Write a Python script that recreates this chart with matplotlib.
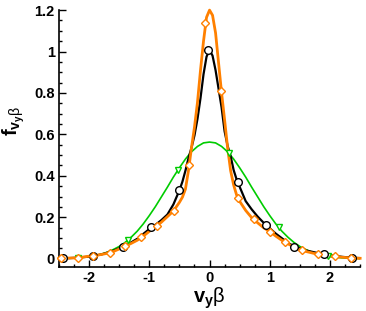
import matplotlib
matplotlib.use("Agg")
import matplotlib.pyplot as plt
from matplotlib.ticker import MultipleLocator

plt.rcParams['font.family'] = ['Liberation Sans', 'DejaVu Sans']
plt.rcParams['font.weight'] = 'bold'
plt.rcParams['mathtext.fontset'] = 'custom'
plt.rcParams['mathtext.rm'] = 'Liberation Sans:normal'
plt.rcParams['mathtext.bf'] = 'Liberation Sans:bold'
plt.rcParams['mathtext.it'] = 'Liberation Sans:italic'

# ---- data ----
black_x = [-2.5, -2.2, -2.0, -1.8, -1.6, -1.4, -1.2, -1.0, -0.9, -0.8, -0.7, -0.6, -0.5, -0.45, -0.4,
           -0.35, -0.3, -0.25, -0.2, -0.15, -0.1, -0.05, 0.0, 0.05, 0.1, 0.15, 0.2, 0.25, 0.3, 0.35,
           0.4, 0.45, 0.5, 0.6, 0.7, 0.8, 0.9, 1.0, 1.1, 1.2, 1.3, 1.4, 1.6, 1.8, 2.0, 2.2, 2.4, 2.5]
black_y = [0.0, 0.005, 0.01, 0.02, 0.038, 0.062, 0.096, 0.143, 0.163, 0.186, 0.213, 0.262, 0.33, 0.372, 0.425,
           0.485, 0.535, 0.595, 0.675, 0.775, 0.89, 0.975, 1.008, 0.98, 0.91, 0.82, 0.73, 0.615, 0.545, 0.495,
           0.428, 0.382, 0.347, 0.278, 0.238, 0.203, 0.173, 0.147, 0.121, 0.099, 0.077, 0.06, 0.04, 0.027, 0.017, 0.009, 0.004, 0.003]

orange_x = [-2.5, -2.2, -2.0, -1.9, -1.8, -1.7, -1.6, -1.5, -1.4, -1.3, -1.2, -1.1, -1.0, -0.9, -0.8, -0.7,
            -0.6, -0.5, -0.45, -0.4, -0.35, -0.3, -0.25, -0.2, -0.15, -0.1, -0.05, 0.0, 0.05, 0.1, 0.15,
            0.2, 0.25, 0.3, 0.35, 0.4, 0.45, 0.5, 0.6, 0.7, 0.8, 0.9, 1.0, 1.1, 1.2, 1.3, 1.4, 1.5, 1.6,
            1.8, 2.0, 2.2, 2.4, 2.5]
orange_y = [0.002, 0.004, 0.012, 0.016, 0.02, 0.026, 0.034, 0.047, 0.06, 0.074, 0.089, 0.109, 0.132, 0.153, 0.176, 0.203,
            0.23, 0.272, 0.297, 0.336, 0.425, 0.535, 0.635, 0.755, 0.91, 1.05, 1.165, 1.2, 1.175, 1.09, 0.945,
            0.8, 0.67, 0.535, 0.425, 0.356, 0.307, 0.277, 0.233, 0.198, 0.173, 0.149, 0.131, 0.109, 0.089, 0.072, 0.057, 0.044, 0.035,
            0.021, 0.013, 0.007, 0.003, 0.002]

green_x = [-2.5, -2.4, -2.3, -2.2, -2.1, -2.0, -1.9, -1.8, -1.7, -1.6, -1.5, -1.4, -1.3, -1.2, -1.1, -1.0,
           -0.9, -0.8, -0.7, -0.6, -0.5, -0.4, -0.3, -0.2, -0.1, 0.0, 0.1, 0.2, 0.3, 0.4, 0.5, 0.6, 0.7,
           0.8, 0.9, 1.0, 1.1, 1.2, 1.3, 1.4, 1.5, 1.6, 1.7, 1.8, 1.9, 2.0, 2.1, 2.2, 2.3, 2.4, 2.5]
green_y = [0.001, 0.002, 0.003, 0.004, 0.007, 0.01, 0.015, 0.022, 0.031, 0.044, 0.059, 0.079, 0.104, 0.133, 0.168, 0.208,
           0.251, 0.298, 0.345, 0.394, 0.439, 0.481, 0.516, 0.542, 0.559, 0.563, 0.559, 0.542, 0.516, 0.481, 0.439, 0.394, 0.345,
           0.298, 0.251, 0.208, 0.168, 0.133, 0.104, 0.079, 0.059, 0.044, 0.031, 0.022, 0.015, 0.01, 0.007, 0.004, 0.003, 0.002, 0.001]

black_mx = [-2.43, -1.94, -1.43, -0.97, -0.5, -0.02, 0.467, 0.93, 1.405, 1.895, 2.37]
black_my = [0.002, 0.011, 0.058, 0.151, 0.33, 1.006, 0.369, 0.165, 0.058, 0.022, 0.004]

orange_mx = [-2.46, -2.19, -1.93, -1.66, -1.41, -1.13, -0.87, -0.595, -0.333, -0.07, 0.195, 0.467,
             0.733, 1.0, 1.255, 1.53, 1.8, 2.08, 2.35]
orange_my = [0.002, 0.004, 0.015, 0.029, 0.059, 0.103, 0.159, 0.231, 0.45, 1.14, 0.81, 0.293,
             0.191, 0.131, 0.079, 0.041, 0.021, 0.011, 0.004]

green_mx = [-2.19, -1.355, -0.52, 0.32, 1.145, 1.97]
green_my = [0.004, 0.092, 0.43, 0.51, 0.151, 0.011]

xticks = [-2, -1, 0, 1, 2]
yticks = [0, 0.2, 0.4, 0.6, 0.8, 1.0, 1.2]
ytick_labels = ['0', '0.2', '0.4', '0.6', '0.8', '1', '1.2']

# ---- figure ----
fig = plt.figure(figsize=(3.66, 3.11), dpi=100)
ax = fig.add_axes([0.161, 0.1415, 0.823, 0.826])

c_black = '#000000'
c_orange = '#FF8000'
c_green = '#00CC00'

ax.plot(green_x, green_y, color=c_green, lw=1.2, zorder=2)
ax.plot(black_x, black_y, color=c_black, lw=1.6, zorder=3)
ax.plot(orange_x, orange_y, color=c_orange, lw=2.0, zorder=4, clip_on=False)

ax.plot(green_mx, green_my, ls='none', marker='v', ms=5, mfc='white', mec=c_green, mew=1.0, zorder=5)
ax.plot(black_mx, black_my, ls='none', marker='o', ms=5.5, mfc='white', mec=c_black, mew=1.0, zorder=5)
ax.plot(orange_mx, orange_my, ls='none', marker='D', ms=3.8, mfc='white', mec=c_orange, mew=1.0, zorder=6, clip_on=False)

ax.set_xlim(-2.5, 2.5)
ax.set_ylim(-0.04, 1.2)

ax.set_xticks(xticks)
ax.set_xticklabels([str(t) for t in xticks])
ax.set_yticks(yticks)
ax.set_yticklabels(ytick_labels)
ax.xaxis.set_minor_locator(MultipleLocator(0.25))
ax.yaxis.set_minor_locator(MultipleLocator(0.05))

ax.tick_params(which='both', direction='in', width=1.0, top=False, right=False)
ax.tick_params(which='major', length=5, labelsize=10.5, pad=3)
ax.tick_params(which='minor', length=2.5)
for lab in ax.get_xticklabels() + ax.get_yticklabels():
    lab.set_fontweight('bold')

for s in ['top', 'right']:
    ax.spines[s].set_visible(False)
for s in ['left', 'bottom']:
    ax.spines[s].set_linewidth(1.2)

ax.set_xlabel(r'$\mathbf{v}_{\mathbf{y}}\mathrm{\beta}$', fontsize=14.5, labelpad=0)
ax.set_ylabel(r'$\mathbf{f}_{\mathbf{v}_{\mathbf{y}}\mathrm{\beta}}$', fontsize=14.5)
ax.yaxis.set_label_coords(-0.105, 0.57)

fig.savefig('out.png', dpi=100)
